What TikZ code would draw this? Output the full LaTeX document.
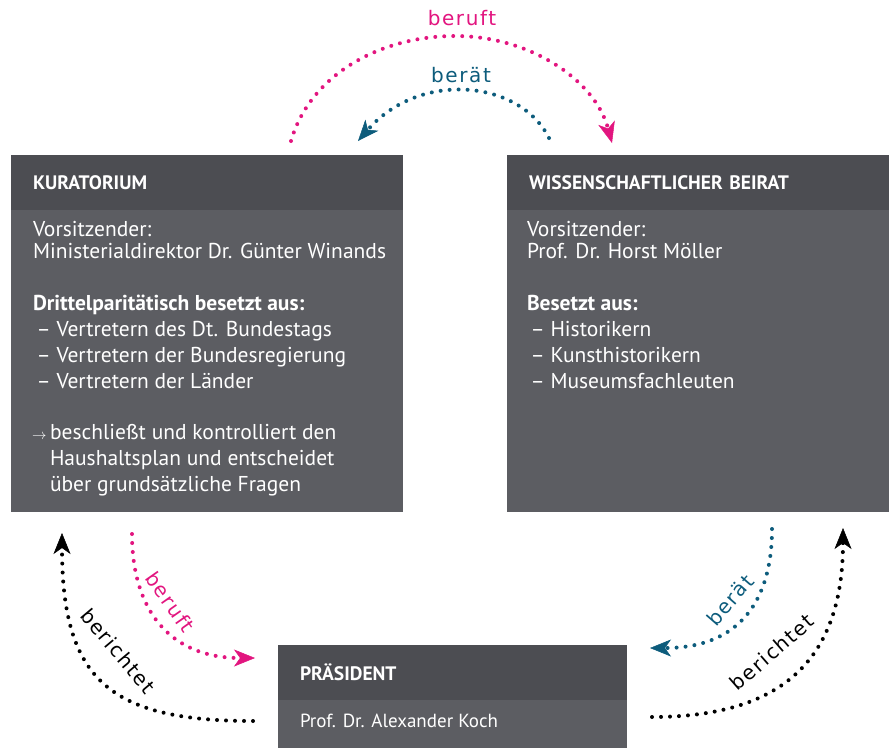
\documentclass[tikz,border=0pt]{standalone}
\usepackage{fontspec}
\setmainfont{PT Sans}
\newfontfamily\arcfont[LetterSpace=8]{DejaVu Sans}
\usetikzlibrary{positioning,arrows.meta,calc}
\definecolor{headgray}{HTML}{4C4D52}
\definecolor{bodygray}{HTML}{5C5D62}
\definecolor{rufpink}{HTML}{E2157F}
\definecolor{ratblue}{HTML}{0D5C7C}
\newcommand{\bodyFont}{\fontsize{21.5}{26}\selectfont}
\newcommand{\headFont}{\bfseries\fontsize{19.5}{22}\selectfont}
\begin{document}
\begin{tikzpicture}[x=1pt,y=-1pt,outer sep=0pt,
	head/.style={fill=headgray,text=white,font=\headFont,anchor=north west,minimum height=55pt,inner xsep=22pt,inner ysep=0pt,align=left},
	body/.style={fill=bodygray,anchor=north west,inner sep=0pt},
	txt/.style={text=white,font=\bodyFont,align=left,anchor=base west,inner sep=0pt},
	lab/.style={font=\arcfont\fontsize{20}{22}\selectfont,inner sep=0pt},
	flow/.style={line width=4pt,dash pattern=on 0pt off 9pt,line cap=round,-{Stealth[length=21pt,width=17pt,inset=6pt,line width=0.5pt]}}]
\useasboundingbox (0,0) rectangle (889,748);
\node[head,text width=348pt] (kurHead) at (11,155) {KURATORIUM};
\node[body,minimum width=392pt,minimum height=302pt] (kurBody) at (kurHead.south west) {};
\node[head,text width=338pt] (beiHead) at (507,155) {WISSENSCHAFTLICHER BEIRAT};
\node[body,minimum width=382pt,minimum height=302pt] (beiBody) at (beiHead.south west) {};
\node[head,text width=305pt] (praHead) at (278,645) {PRÄSIDENT};
\node[body,minimum width=349pt,minimum height=48pt] (praBody) at (praHead.south west) {};
\node[txt] (kurChair) at (33,258) {Vorsitzender:\\[-4pt]Ministerialdirektor Dr. Günter Winands};
\node[txt] (kurMembers) at (33,388) {\textbf{Drittelparitätisch besetzt aus:}\\\,– Vertretern des Dt. Bundestags\\\,– Vertretern der Bundesregierung\\\,– Vertretern der Länder};
\node[txt] (kurTask) at (50,491) {\llap{$\scriptstyle\rightarrow$\,}beschließt und kontrolliert den\\Haushaltsplan und entscheidet\\über grundsätzliche Fragen};
\node[txt] (beiChair) at (527,258) {Vorsitzender:\\[-4pt]Prof. Dr. Horst Möller};
\node[txt] (beiMembers) at (527,388) {\textbf{Besetzt aus:}\\\,– Historikern\\\,– Kunsthistorikern\\\,– Museumsfachleuten};
\node[txt,font=\fontsize{19}{22}\selectfont] (praName) at (300,727) {Prof. Dr. Alexander Koch};
\coordinate (kurTopOut) at (291,141);
\coordinate (beiTopIn) at (612,143);
\coordinate (beiTopOut) at (549,138);
\coordinate (kurTopIn) at (358,141);
\coordinate (kurLowOut) at (132,534);
\coordinate (praLeftIn) at (255,658);
\coordinate (praLeftOut) at (253,721);
\coordinate (kurLowIn) at (62,533);
\coordinate (beiLowOut) at (772,529);
\coordinate (praRightIn) at (650,648);
\coordinate (praRightOut) at (652,717);
\coordinate (beiLowIn) at (843,528);
\draw[flow,rufpink] (kurTopOut) .. controls (310,75) and (380,36) .. (455,36) .. controls (530,36) and (595,80) .. (beiTopIn);
\draw[flow,ratblue] (beiTopOut) .. controls (520,80) and (420,70) .. (kurTopIn);
\draw[flow,rufpink] (kurLowOut) .. controls (132,610) and (170,658) .. (praLeftIn);
\draw[flow,black] (praLeftOut) .. controls (110,721) and (62,680) .. (kurLowIn);
\draw[flow,ratblue] (beiLowOut) .. controls (772,600) and (740,648) .. (praRightIn);
\draw[flow,black] (praRightOut) .. controls (770,717) and (843,670) .. (beiLowIn);
\node[lab,text=rufpink] (topRuft) at (462,18) {beruft};
\node[lab,text=ratblue] (topRat) at (461,75) {berät};
\node[lab,text=rufpink,rotate=-55] (leftRuft) at (170,602) {beruft};
\node[lab,text=black,rotate=-50] (leftBericht) at (118,651) {berichtet};
\node[lab,text=ratblue,rotate=49] (rightRat) at (730,600) {berät};
\node[lab,text=black,rotate=41] (rightBericht) at (772,652) {berichtet};
\end{tikzpicture}
\end{document}
